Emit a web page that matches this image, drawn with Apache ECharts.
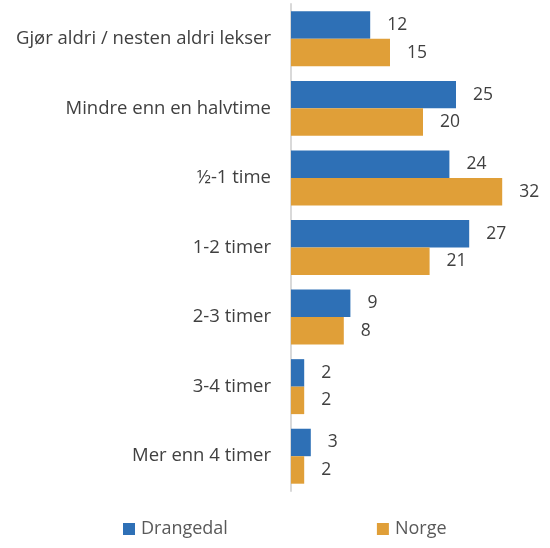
<!DOCTYPE html>
<html>
<head>
<meta charset="utf-8">
<script src="https://cdn.jsdelivr.net/npm/echarts@6/dist/echarts.min.js"></script>
<style>
  html, body { margin: 0; padding: 0; background: #ffffff; }
  #chart { width: 550px; height: 548px; }
</style>
</head>
<body>
<div id="chart"></div>
<script>
// Tid brukt på lekser: Drangedal sammenlignet med Norge (prosent)
const categories = [
  'Gjør aldri / nesten aldri lekser',
  'Mindre enn en halvtime',
  '½-1 time',
  '1-2 timer',
  '2-3 timer',
  '3-4 timer',
  'Mer enn 4 timer'
];
const drangedal = [12, 25, 24, 27, 9, 2, 3];
const norge = [15, 20, 32, 21, 8, 2, 2];
const seriesNames = ['Drangedal', 'Norge'];
const colors = ['#2E70B6', '#E09F38'];

const fontFamily = '"Open Sans", "Noto Sans", sans-serif';

const chart = echarts.init(document.getElementById('chart'), null, { renderer: 'canvas' });

const labelStyle = {
  show: true,
  position: 'right',
  distance: 17,
  color: '#404040',
  fontSize: 17.5,
  fontFamily: fontFamily
};

chart.setOption({
  animation: false,
  color: colors,
  grid: { left: 291, right: 28, top: 4, bottom: 57, containLabel: false },
  legend: {
    bottom: 5,
    left: 118,
    itemWidth: 12,
    itemHeight: 12,
    itemGap: 149,
    icon: 'rect',
    textStyle: { color: '#595959', fontSize: 18, fontFamily: fontFamily, padding: [0, 0, 0, 1] },
    data: seriesNames
  },
  xAxis: {
    type: 'value',
    min: 0,
    max: 35,
    show: false
  },
  yAxis: {
    type: 'category',
    inverse: true,
    data: categories,
    axisLine: { show: true, lineStyle: { color: '#D9D9D9', width: 2 } },
    axisTick: { show: false },
    axisLabel: { color: '#404040', fontSize: 18.5, fontFamily: fontFamily, margin: 20 }
  },
  series: [
    {
      name: seriesNames[0],
      type: 'bar',
      data: drangedal,
      barGap: '0%',
      barCategoryGap: '21%',
      label: labelStyle
    },
    {
      name: seriesNames[1],
      type: 'bar',
      data: norge,
      barGap: '0%',
      barCategoryGap: '21%',
      label: labelStyle
    }
  ]
});
</script>
</body>
</html>
